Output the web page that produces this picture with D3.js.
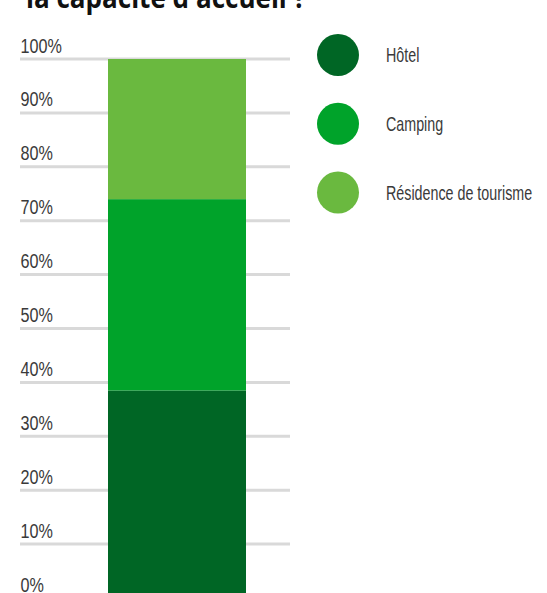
<!DOCTYPE html>
<html><head><meta charset="utf-8">
<script src="https://cdn.jsdelivr.net/npm/d3@7/dist/d3.min.js"></script>
<style>
html,body{margin:0;padding:0;background:#fff;overflow:hidden;}
svg{display:block;}
</style></head>
<body>
<svg id="chart" width="547" height="593"></svg>
<script>
const categories = ["Hôtel", "Camping", "Résidence de tourisme"];
const values = [0.385, 0.355, 0.26];
const colors = ["#006625", "#00a32a", "#6ab93f"];
const tickValues = [0, 0.1, 0.2, 0.3, 0.4, 0.5, 0.6, 0.7, 0.8, 0.9, 1.0];
const tickLabels = ["0%", "10%", "20%", "30%", "40%", "50%", "60%", "70%", "80%", "90%", "100%"];
const title = "la capacité d'accueil ?";

const svg = d3.select("#chart");
const font = "'Liberation Sans', Arial, sans-serif";

const y = d3.scaleLinear().domain([0, 1]).range([598, 59]);

// title (partially cut off at top, as in the reference)
svg.append("text")
  .attr("x", 26).attr("y", 8)
  .attr("font-family", "'Open Sans', sans-serif")
  .attr("font-weight", "bold")
  .attr("font-size", 28)
  .attr("textLength", 280)
  .attr("lengthAdjust", "spacingAndGlyphs")
  .attr("fill", "#111")
  .text(title);

// gridlines
const grid = svg.append("g");
grid.selectAll("line").data(tickValues).join("line")
  .attr("x1", 20).attr("x2", 290)
  .attr("y1", d => y(d)).attr("y2", d => y(d))
  .attr("stroke", "#d9d9d9").attr("stroke-width", 3);

grid.selectAll("text").data(tickValues).join("text")
  .attr("transform", d => `translate(20.5,${y(d) - 6.5}) scale(0.81,1)`)
  .attr("font-family", font).attr("font-size", 20)
  .attr("fill", "#3a3a3a")
  .text((d, i) => tickLabels[i]);

// stacked bar
let cum = 0;
const stacked = values.map((v, i) => { const s = {y0: cum, y1: cum + v, c: colors[i]}; cum += v; return s; });
svg.append("g").selectAll("rect").data(stacked).join("rect")
  .attr("x", 108).attr("width", 138)
  .attr("y", d => y(d.y1)).attr("height", d => y(d.y0) - y(d.y1))
  .attr("fill", d => d.c);

// legend
const leg = svg.append("g");
const ly = d3.scalePoint().domain(categories).range([55, 192.5]);
leg.selectAll("circle").data(categories).join("circle")
  .attr("cx", 338).attr("cy", d => ly(d)).attr("r", 21)
  .attr("fill", (d, i) => colors[i]);
leg.selectAll("text").data(categories).join("text")
  .attr("transform", d => `translate(386,${ly(d) + 7}) scale(0.715,1)`)
  .attr("font-family", font).attr("font-size", 20)
  .attr("fill", "#3a3a3a")
  .text(d => d);
</script>
</body></html>
